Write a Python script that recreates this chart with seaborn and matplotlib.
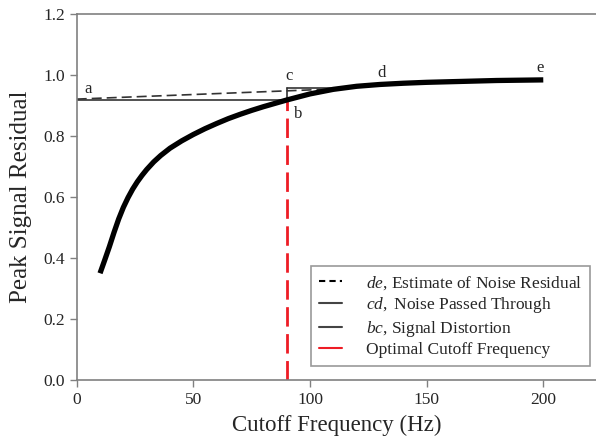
import matplotlib
matplotlib.use("Agg")
import matplotlib.pyplot as plt
import seaborn as sns
import pandas as pd
from matplotlib.lines import Line2D

sns.set_style("ticks")
plt.rcParams['font.family'] = ['Liberation Serif', 'DejaVu Serif']
plt.rcParams['mathtext.fontset'] = 'custom'
plt.rcParams['mathtext.it'] = 'Liberation Serif:italic'
plt.rcParams['mathtext.rm'] = 'Liberation Serif'

# Data
freq = [10, 12, 14, 16, 18, 20, 22, 24, 26, 28, 30, 33, 36, 40, 45, 50, 55,
        60, 65, 70, 75, 80, 85, 90, 100, 110, 120, 130, 140, 150, 160, 170,
        180, 190, 200]
residual = [0.350, 0.393, 0.437, 0.484, 0.528, 0.566, 0.598, 0.626, 0.650,
            0.671, 0.690, 0.715, 0.736, 0.760, 0.784, 0.805, 0.824, 0.841,
            0.857, 0.871, 0.884, 0.896, 0.907, 0.918, 0.938, 0.953, 0.963,
            0.969, 0.973, 0.976, 0.978, 0.980, 0.982, 0.983, 0.984]

optimal_cutoff = 90
point_a = (0, 0.921)
point_b = (90, 0.918)
point_c = (90, 0.958)
point_d = (115, 0.958)
dashed_end = (113, 0.955)

letters = ["a", "b", "c", "d", "e"]
letter_x = [4.8, 95, 91, 130.5, 198.6]
letter_y = [0.954, 0.873, 0.997, 1.006, 1.023]

legend_labels = [r"$\it{de}$, Estimate of Noise Residual",
                 r"$\it{cd,}$ Noise Passed Through",
                 r"$\it{bc}$, Signal Distortion",
                 "Optimal Cutoff Frequency"]

df = pd.DataFrame({"freq": freq, "residual": residual})

fig = plt.figure(figsize=(5.96, 4.42), dpi=100)
ax = fig.add_axes([0.1287, 0.1403, 0.8713, 0.828])

ax.plot([point_a[0], point_b[0]], [point_b[1], point_b[1]], color="#333333", lw=1.2)
ax.plot([point_a[0], dashed_end[0]], [point_a[1], dashed_end[1]], color="#333333",
        lw=1.2, ls=(0, (6, 3)))
ax.plot([point_b[0], point_c[0]], [point_b[1], point_c[1]], color="#333333", lw=1.2)
ax.plot([point_c[0], point_d[0]], [point_c[1], point_d[1]], color="#333333", lw=1.2)
ax.plot([optimal_cutoff, optimal_cutoff], [0, point_b[1]], color="#ee1c25", lw=2,
        ls=(0, (7, 2.7)))

sns.lineplot(data=df, x="freq", y="residual", ax=ax, color="black", lw=3.8,
             solid_capstyle="butt")

for t, x, y in zip(letters, letter_x, letter_y):
    ax.text(x, y, t, fontsize=12, ha="center", va="center")

ax.set_xlim(0, 222.6)
ax.set_ylim(0, 1.2)
ax.set_xticks([0, 50, 100, 150, 200])
ax.set_yticks([0.0, 0.2, 0.4, 0.6, 0.8, 1.0, 1.2])
ax.set_yticklabels(["0.0", "0.2", "0.4", "0.6", "0.8", "1.0", "1.2"])
ax.set_xlabel("Cutoff Frequency (Hz)", fontsize=16.5, labelpad=5)
ax.set_ylabel("Peak Signal Residual", fontsize=18, labelpad=8)
ax.tick_params(labelsize=12.5, color="#808080", length=5, width=1)

for s in ["left", "bottom", "top"]:
    ax.spines[s].set_color("#808080")
    ax.spines[s].set_linewidth(1.2)
    ax.spines[s].set_visible(True)
ax.spines["right"].set_visible(False)

handles = [Line2D([], [], color="black", lw=1.5, ls=(0, (3, 2))),
           Line2D([], [], color="#444444", lw=1.5),
           Line2D([], [], color="#444444", lw=1.5),
           Line2D([], [], color="#ee1c25", lw=1.5)]
leg = ax.legend(handles, legend_labels, loc="lower right", bbox_to_anchor=(0.988, 0.038),
                borderaxespad=0, fontsize=12.5, frameon=True, fancybox=False,
                handlelength=1.35, handletextpad=1.35, borderpad=0.45,
                labelspacing=0.2)
leg.get_frame().set_edgecolor("#808080")
leg.get_frame().set_linewidth(1.2)

fig.savefig("out.png", dpi=100)
